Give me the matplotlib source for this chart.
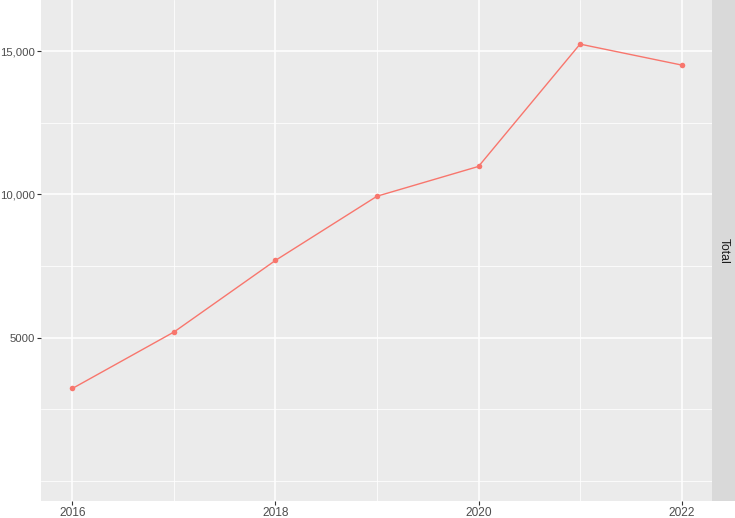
import matplotlib
matplotlib.use('Agg')
import matplotlib.pyplot as plt
from matplotlib.ticker import FuncFormatter

years = [2016, 2017, 2018, 2019, 2020, 2021, 2022]
totals = [3230, 5200, 7700, 9940, 10980, 15250, 14520]

x_major = [2016, 2018, 2020, 2022]
x_minor = [2017, 2019, 2021]
y_major = [5000, 10000, 15000]
y_minor = [0, 2500, 7500, 12500]
strip_label = 'Total'

plt.rcParams['font.family'] = ['Liberation Sans', 'DejaVu Sans']

fig = plt.figure(figsize=(7.35, 5.18), dpi=100)
W, H = 735, 518
ax = fig.add_axes([41 / W, 17 / H, (712 - 41) / W, (H - 17) / H])
strip = fig.add_axes([712 / W, 17 / H, (W - 712) / W, (H - 17) / H])

ax.set_facecolor('#EBEBEB')
ax.plot(years, totals, color='#F8766D', lw=1.0, zorder=3)
ax.scatter(years, totals, color='#F8766D', s=16, zorder=4, linewidths=0)

ax.set_xlim(2015.69, 2022.3)
ax.set_ylim(-700, 16790)
ax.set_xticks(x_major)
ax.set_xticks(x_minor, minor=True)
ax.set_yticks(y_major)
ax.set_yticks(y_minor, minor=True)


def fmt(v, pos):
    return f'{int(v):,}' if v >= 10000 else f'{int(v)}'


ax.yaxis.set_major_formatter(FuncFormatter(fmt))
ax.grid(which='major', color='white', lw=1.1)
ax.grid(which='minor', color='white', lw=0.55)
ax.set_axisbelow(True)
for s in ax.spines.values():
    s.set_visible(False)
ax.tick_params(which='major', length=3, width=0.8, color='#333333',
               labelcolor='#4D4D4D', labelsize=8.6, pad=1.5)
ax.tick_params(axis='y', which='major', labelsize=8.2, pad=1.2)
ax.tick_params(which='minor', length=0)

strip.set_facecolor('#D9D9D9')
strip.set_xticks([])
strip.set_yticks([])
for s in strip.spines.values():
    s.set_visible(False)
strip.text(0.5, 0.5, strip_label, rotation=-90, ha='center', va='center',
           fontsize=8.8, color='#1A1A1A', transform=strip.transAxes)

fig.savefig('out.png', dpi=100)
